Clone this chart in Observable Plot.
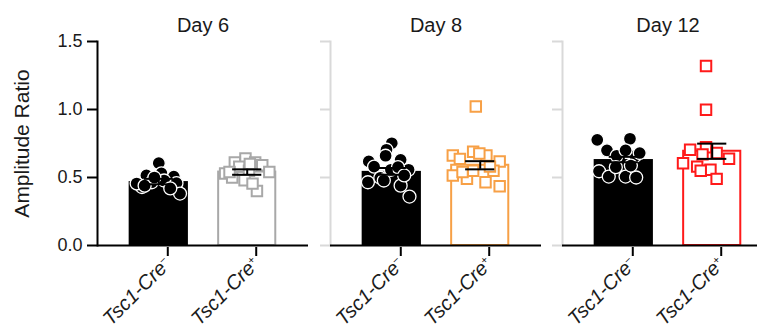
<!DOCTYPE html>
<html><head><meta charset="utf-8">
<script src="https://cdn.jsdelivr.net/npm/d3@7"></script>
<script src="https://cdn.jsdelivr.net/npm/@observablehq/plot@0.6"></script>
<style>
body{margin:0;background:#fff;overflow:hidden;font-family:"Liberation Sans",Arial,sans-serif}
#wrap{position:relative;width:757px;height:329px;overflow:hidden;background:#fff}
#wrap svg{position:absolute;top:0;overflow:visible}
</style></head><body><div id="wrap"></div>
<script>
// ---- data ----
const days = ["Day 6", "Day 8", "Day 12"];
const genotypes = ["Tsc1-Cre", "Tsc1-Cre"];
const genoSup = ["\u2212", "+"];
const yTicks = [0, 0.5, 1.0, 1.5];
const yLabel = "Amplitude Ratio";
const koColors = ["#a8a8a8", "#f7a046", "#ff1a1a"];

const wtMean = [0.47, 0.545, 0.632];
const wtSem = [0.02, 0.025, 0.02];
const koMean = [0.54, 0.59, 0.693];
const koSem = [0.02, 0.03, 0.056];

const day6WT = [0.605, 0.515, 0.53, 0.507, 0.43, 0.456, 0.465, 0.478, 0.458, 0.382, 0.42, 0.44, 0.50];
const day6WTJitter = [0, -0.14, 0.03, 0.17, -0.19, -0.25, -0.08, 0.06, 0.2, 0.24, 0.13, -0.16, -0.05];
const day6KO = [0.64, 0.61, 0.61, 0.59, 0.53, 0.54, 0.58, 0.55, 0.50, 0.48, 0.40, 0.455, 0.54, 0.60];
const day6KOJitter = [-0.02, -0.14, 0.09, 0.17, -0.25, 0.25, -0.09, 0.02, -0.17, -0.03, 0.11, 0.06, -0.2, 0.03];

const day8WT = [0.752, 0.704, 0.618, 0.63, 0.66, 0.58, 0.557, 0.557, 0.465, 0.498, 0.44, 0.36, 0.576, 0.478, 0.515];
const day8WTJitter = [0, -0.06, -0.26, 0.1, -0.07, -0.2, 0.19, -0.01, -0.27, -0.13, 0.1, 0.2, 0.07, -0.09, 0.14];
const day8KO = [1.022, 0.662, 0.69, 0.662, 0.618, 0.637, 0.676, 0.515, 0.49, 0.465, 0.436, 0.55, 0.55, 0.54, 0.58];
const day8KOJitter = [-0.05, -0.31, -0.08, 0.07, 0.22, -0.23, -0.01, -0.31, -0.15, 0.06, 0.22, -0.08, 0.15, -0.2, 0.11];

const day12WT = [0.777, 0.785, 0.70, 0.66, 0.66, 0.70, 0.68, 0.546, 0.507, 0.507, 0.50, 0.588, 0.576];
const day12WTJitter = [-0.3, 0.07, -0.19, -0.08, 0.13, 0.02, 0.18, -0.28, -0.17, 0.02, 0.14, 0.08, -0.09];
const day12KO = [1.32, 0.998, 0.704, 0.723, 0.68, 0.638, 0.605, 0.58, 0.557, 0.49, 0.67, 0.55];
const day12KOJitter = [-0.07, -0.07, -0.25, -0.07, 0.05, 0.19, -0.33, -0.17, -0.02, 0.05, -0.11, -0.13];

const wtVals = [day6WT, day8WT, day12WT];
const wtJit = [day6WTJitter, day8WTJitter, day12WTJitter];
const koVals = [day6KO, day8KO, day12KO];
const koJit = [day6KOJitter, day8KOJitter, day12KOJitter];

// ---- drawing ----
const FONT = '"Liberation Sans", Arial, sans-serif';
const HALF = 0.335, CAP = 0.165;
const wrap = document.getElementById("wrap");
const lefts = [0, 310, 542];

function panel(k) {
  const first = k === 0;
  const ml = first ? 97 : 20;
  const axisColor = first ? "black" : "#d9d9d9";
  const wtPts = wtVals[k].map((v, j) => ({x: 0 + wtJit[k][j], y: v}));
  const koPts = koVals[k].map((v, j) => ({x: 1 + koJit[k][j], y: v}));
  const bars = [
    {i: 0, mean: wtMean[k], sem: wtSem[k]},
    {i: 1, mean: koMean[k], sem: koSem[k]}
  ];
  const svg = Plot.plot({
    width: ml + 211,
    height: 329,
    marginLeft: ml,
    marginRight: 0,
    marginTop: 41,
    marginBottom: 84,
    style: {fontFamily: FONT, color: "black", background: "transparent", overflow: "visible"},
    x: {domain: [-0.693, 1.693], axis: null},
    y: {domain: [0, 1.5], axis: null},
    marks: [
      Plot.frame({anchor: "left", stroke: axisColor, strokeWidth: 2}),
      Plot.axisY({
        ticks: yTicks, tickSize: 10, tickPadding: 5, stroke: axisColor, strokeWidth: 2,
        tickFormat: first ? d3.format(".1f") : () => "",
        fontSize: 18, fill: "#1a1a1a", label: null
      }),
      first ? Plot.text([yLabel], {text: d => d, frameAnchor: "left", textAnchor: "middle", lineAnchor: "middle", rotate: -90, dx: -75, fontSize: 21, fill: "#1a1a1a"}) : null,
      Plot.rectY(bars.slice(0, 1), {x1: d => d.i - HALF, x2: d => d.i + HALF, y: "mean", fill: "black"}),
      Plot.rectY(bars.slice(1), {x1: d => d.i - HALF + 0.012, x2: d => d.i + HALF - 0.012, y: "mean", fill: "white", stroke: koColors[k], strokeWidth: 2}),
      Plot.dot(wtPts, {x: "x", y: "y", r: 6.5, fill: "black", stroke: "white", strokeWidth: 1.3}),
      Plot.dot(koPts, {x: "x", y: "y", symbol: "square", r: 5.9, fill: "white", stroke: koColors[k], strokeWidth: 2}),
      Plot.ruleX(bars, {x: "i", y1: d => d.mean - d.sem, y2: d => d.mean + d.sem, stroke: "black", strokeWidth: 2}),
      Plot.ruleY(bars, {x1: d => d.i - CAP, x2: d => d.i + CAP, y: d => d.mean + d.sem, stroke: "black", strokeWidth: 2}),
      Plot.ruleY(bars, {x1: d => d.i - CAP, x2: d => d.i + CAP, y: d => d.mean - d.sem, stroke: "black", strokeWidth: 2}),
      Plot.ruleY([0], {stroke: "black", strokeWidth: 2}),
      Plot.axisX({
        ticks: [0, 1], tickFormat: i => genotypes[i] + "|" + i, tickRotate: -45, tickSize: 9, tickPadding: 4,
        stroke: "black", strokeWidth: 2, fontSize: 20, fontStyle: "italic", fill: "#1a1a1a", label: null,
        dx: 9, dy: 2
      }),
      Plot.text([days[k]], {text: d => d, frameAnchor: "top", lineAnchor: "bottom", dy: -10, fontSize: 20, fill: "#1a1a1a"})
    ]
  });
  svg.style.left = lefts[k] + "px";
  // superscripts on genotype labels
  svg.querySelectorAll("text").forEach(t => {
    const s = t.textContent;
    const m = s.match(/^(.*)\|(\d)$/);
    if (m) {
      const idx = +m[2];
      while (t.firstChild) t.removeChild(t.firstChild);
      const a = document.createElementNS("http://www.w3.org/2000/svg", "tspan");
      a.textContent = m[1];
      const b = document.createElementNS("http://www.w3.org/2000/svg", "tspan");
      b.textContent = genoSup[idx];
      b.setAttribute("dy", "-0.6em");
      b.setAttribute("font-size", "11");
      b.setAttribute("font-style", "normal");
      t.appendChild(a); t.appendChild(b);
    }
  });
  wrap.appendChild(svg);
}
[0, 1, 2].forEach(panel);
</script></body></html>
